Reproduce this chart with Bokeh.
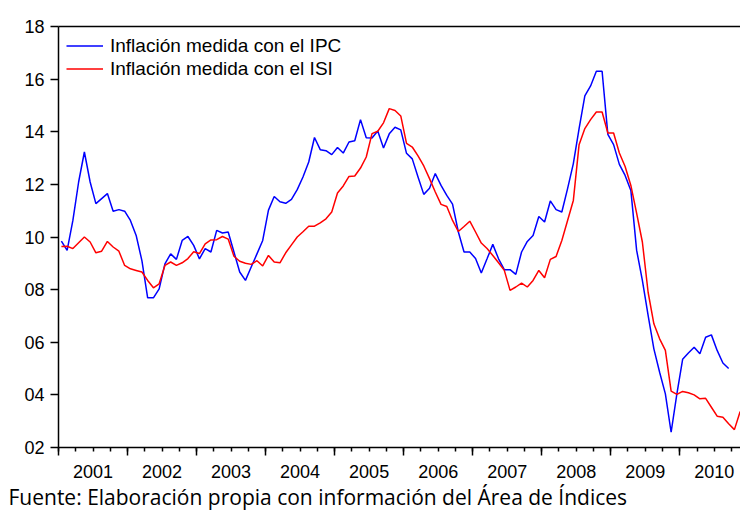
import numpy as np
from bokeh.plotting import figure
from bokeh.models import (LinearAxis, FixedTicker, Range1d, Legend, LegendItem, Title)
from bokeh.embed import file_html
from bokeh.resources import INLINE

# ---------------- data ----------------
start_year = 2001
years = [2001, 2002, 2003, 2004, 2005, 2006, 2007, 2008, 2009, 2010]

ipc = [
    9.84, 9.49, 10.63, 12.09, 13.23, 12.09, 11.27, 11.46, 11.65, 10.98, 11.04, 10.98,
    10.63, 10.06, 9.10, 7.69, 7.69, 8.03, 8.98, 9.36, 9.15, 9.87, 10.02, 9.68,
    9.17, 9.56, 9.43, 10.25, 10.15, 10.19, 9.43, 8.67, 8.35, 8.86, 9.36, 9.87,
    11.02, 11.54, 11.34, 11.28, 11.43, 11.80, 12.28, 12.85, 13.78, 13.32, 13.28, 13.13,
    13.40, 13.19, 13.61, 13.66, 14.46, 13.77, 13.76, 14.03, 13.38, 13.92, 14.17, 14.07,
    13.18, 12.97, 12.28, 11.62, 11.85, 12.41, 11.96, 11.58, 11.25, 10.20, 9.43, 9.43,
    9.18, 8.63, 9.17, 9.72, 9.17, 8.76, 8.76, 8.58, 9.43, 9.83, 10.06, 10.78,
    10.57, 11.37, 11.04, 10.95, 11.84, 12.79, 14.12, 15.36, 15.74, 16.30, 16.30, 13.90,
    13.51, 12.76, 12.34, 11.77, 9.50, 8.35, 7.02, 5.75, 4.86, 4.04, 2.58, 4.04,
    5.35, 5.59, 5.81, 5.56, 6.19, 6.28, 5.69, 5.21, 5.00,
]

isi = [
    9.64, 9.65, 9.56, 9.78, 10.00, 9.81, 9.40, 9.46, 9.83, 9.62, 9.46, 8.92,
    8.79, 8.73, 8.67, 8.35, 8.07, 8.22, 8.92, 9.05, 8.92, 9.02, 9.18, 9.44,
    9.37, 9.74, 9.89, 9.90, 10.02, 9.92, 9.27, 9.08, 9.00, 8.96, 9.10, 8.90,
    9.30, 9.05, 9.02, 9.40, 9.70, 10.00, 10.20, 10.41, 10.41, 10.54, 10.69, 10.95,
    11.67, 11.94, 12.30, 12.32, 12.62, 13.04, 13.93, 14.02, 14.34, 14.88, 14.81, 14.60,
    13.56, 13.42, 13.08, 12.70, 12.22, 11.71, 11.24, 11.16, 10.63, 10.21, 10.40, 10.60,
    10.19, 9.77, 9.56, 9.30, 9.02, 8.73, 7.97, 8.10, 8.25, 8.10, 8.35, 8.73,
    8.45, 9.15, 9.26, 9.87, 10.63, 11.39, 13.51, 14.12, 14.46, 14.75, 14.75, 13.95,
    13.95, 13.19, 12.68, 11.96, 10.91, 9.81, 7.90, 6.70, 6.13, 5.69, 4.14, 4.02,
    4.13, 4.08, 4.00, 3.85, 3.87, 3.53, 3.19, 3.15, 2.90, 2.68, 3.37,
]

y_ticks = [2, 4, 6, 8, 10, 12, 14, 16, 18]
y_tick_labels = ["02", "04", "06", "08", "10", "12", "14", "16", "18"]

series_names = ["Inflación medida con el IPC", "Inflación medida con el ISI"]
footer = "Fuente: Elaboración propia con información del Área de Índices"

# monthly observations placed at the middle of each month
x_ipc = start_year + (np.arange(len(ipc)) + 0.5) / 12.0
x_isi = start_year + (np.arange(len(isi)) + 0.5) / 12.0

FONT = "Liberation Sans"

p = figure(width=740, height=514, output_backend="svg", toolbar_location=None,
           x_range=Range1d(2001, 2010.88), y_range=Range1d(2, 18),
           min_border_left=58, min_border_right=0, min_border_top=26,
           min_border_bottom=67)
p.background_fill_color = "white"
p.border_fill_color = "white"
p.outline_line_color = None
p.xgrid.visible = False
p.ygrid.visible = False

r1 = p.line(x_ipc, ipc, line_color="#0000FF", line_width=1.5)
r2 = p.line(x_isi, isi, line_color="#FF0000", line_width=1.5)

# y axis
yax = p.yaxis[0]
yax.ticker = FixedTicker(ticks=y_ticks, minor_ticks=[])
yax.major_label_overrides = {t: l for t, l in zip(y_ticks, y_tick_labels)}
yax.major_tick_out = 8
yax.major_tick_in = 0
yax.minor_tick_out = 0
yax.minor_tick_in = 0
yax.major_label_standoff = 6
yax.major_label_text_font = FONT
yax.major_label_text_font_size = "18px"
yax.major_label_text_color = "black"
yax.axis_line_width = 1.5
yax.major_tick_line_width = 1.5

# x axis: year boundary ticks and quarter minor ticks
year_bounds = [y for y in years] + [years[-1] + 1]
quarters = [y + q / 4.0 for y in years for q in range(4)] + [years[-1] + 1]
xax = p.xaxis[0]
xax.ticker = FixedTicker(ticks=year_bounds, minor_ticks=quarters)
xax.major_label_overrides = {t: "" for t in year_bounds}
xax.major_label_text_font_size = "0px"
xax.major_label_standoff = 0
xax.major_tick_out = 8
xax.major_tick_in = 0
xax.minor_tick_out = 4
xax.minor_tick_in = 0
xax.axis_line_width = 1.5
xax.major_tick_line_width = 1.5
xax.minor_tick_line_width = 1.5

# year labels centred in each year
mids = [y + 0.5 for y in years]
lab_ax = LinearAxis(ticker=FixedTicker(ticks=mids, minor_ticks=[]),
                    major_label_overrides={m: str(y) for m, y in zip(mids, years)},
                    axis_line_color=None, major_tick_line_color=None,
                    minor_tick_line_color=None, major_tick_out=0, major_tick_in=0,
                    minor_tick_out=0, minor_tick_in=0, major_label_standoff=9,
                    major_label_text_font=FONT, major_label_text_font_size="18px",
                    major_label_text_color="black")
p.add_layout(lab_ax, "below")

# top frame line
top_ax = LinearAxis(ticker=FixedTicker(ticks=[], minor_ticks=[]),
                    major_tick_out=0, major_tick_in=0, minor_tick_out=0, minor_tick_in=0,
                    major_label_standoff=0, major_label_text_font_size="0px",
                    axis_line_width=1.5)
p.add_layout(top_ax, "above")

legend = Legend(items=[LegendItem(label=series_names[0], renderers=[r1]),
                       LegendItem(label=series_names[1], renderers=[r2])],
                location="top_left", border_line_color=None,
                background_fill_alpha=0, label_text_font=FONT,
                label_text_font_size="19px", label_text_color="black",
                glyph_width=37, glyph_height=23,
                label_height=23, label_standoff=7, padding=0, margin=8, spacing=0)
p.add_layout(legend)

p.add_layout(Title(text=footer, align="left", text_font="Open Sans",
                   text_font_size="21px", text_font_style="normal",
                   text_color="black", standoff=0, offset=-50,
                   text_line_height=0.85), "below")

open("out.html", "w").write(file_html(p, INLINE))
